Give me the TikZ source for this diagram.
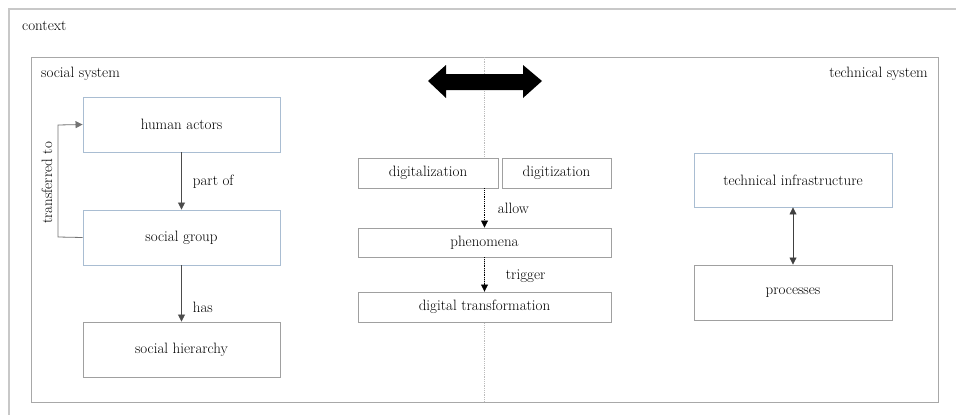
\documentclass[tikz,border=0pt]{standalone}
\usetikzlibrary{arrows.meta}
\definecolor{boxgray}{HTML}{A0A0A0}
\definecolor{boxblue}{HTML}{A9BDD2}
\definecolor{framegray}{HTML}{A8A8A8}
\definecolor{ctxgray}{HTML}{C8C8C8}
\begin{document}
\begin{tikzpicture}[x=1pt,y=-1pt,
  every node/.style={font=\fontsize{15}{17}\selectfont, inner sep=0pt},
  gbox/.style={draw=boxgray, fill=white, line width=0.9pt},
  bbox/.style={draw=boxblue, fill=white, line width=0.9pt},
  conn/.style={line width=0.8pt, -{Triangle[length=7pt,width=7pt]}},
  dconn/.style={line width=0.8pt, densely dotted, -{Triangle[length=7pt,width=7pt]}},
  lbl/.style={anchor=west}]
\useasboundingbox (0,0) rectangle (956,415);
\fill[white] (0,0) rectangle (956,415);
% frames
\node (ctx) [draw=ctxgray, line width=1.6pt, minimum width=962pt, minimum height=420pt, anchor=north west] at (8,8) {};
\node[anchor=west] at (22,26) {context};
\node (sys) [draw=framegray, line width=0.9pt, minimum width=907pt, minimum height=345pt, anchor=north west] at (31,57) {};
\node[anchor=west] at (41,74) {social system};
\node[anchor=east] at (928,74) {technical system};
% divider
\coordinate (dtop) at (484,57);
\coordinate (dbot) at (484,402);
\draw[boxgray!70, line width=0.8pt, densely dotted] (dtop) -- (dbot);
% big double arrow
\fill[black] (428,81) -- (446,65) -- (446,74) -- (523,74) -- (523,65) -- (542,81)
  -- (523,98) -- (523,90) -- (446,90) -- (446,98) -- cycle;
% social side
\node (ha) [bbox, minimum width=197pt, minimum height=55pt] at (181.5,124.5) {human actors};
\node (sg) [bbox, minimum width=197pt, minimum height=55pt] at (181.5,237.5) {social group};
\node (sh) [gbox, minimum width=197pt, minimum height=55pt] at (181.5,349.5) {social hierarchy};
\draw[conn, draw=black!70] (ha) -- node[lbl, xshift=11pt, yshift=-1pt] {part of} (sg);
\draw[conn, draw=black!70] (sg) -- node[lbl, xshift=11pt, yshift=-14pt] {has} (sh);
\coordinate (tl) at (58,125);
\coordinate (bl) at (58,237);
\draw[conn, draw=black!55] (sg.west) -- (bl) -- (tl) -- (ha.west);
\node[rotate=90] at (47,183) {transferred to};
% middle
\node (dgl) [gbox, minimum width=140pt, minimum height=30pt] at (428,173) {digitalization};
\node (dgt) [gbox, minimum width=109pt, minimum height=30pt] at (556.5,173) {digitization};
\node (ph) [gbox, minimum width=253pt, minimum height=29pt] at (484.5,242.5) {phenomena};
\node (dt) [gbox, minimum width=253pt, minimum height=30pt] at (484.5,307) {digital transformation};
\draw[dconn] (ph.north |- dgl.south) -- node[lbl, xshift=13pt, yshift=0pt] {allow} (ph.north);
\draw[dconn] (ph.south) -- node[lbl, xshift=21pt, yshift=-2pt] {trigger} (dt.north);
% technical side
\node (ti) [bbox, minimum width=198pt, minimum height=54pt] at (793,180) {technical infrastructure};
\node (pr) [gbox, minimum width=198pt, minimum height=55pt] at (793,292.5) {processes};
\draw[line width=0.8pt, draw=black!75, {Triangle[length=7pt,width=7pt]}-{Triangle[length=7pt,width=7pt]}] (ti) -- (pr);
\end{tikzpicture}
\end{document}
